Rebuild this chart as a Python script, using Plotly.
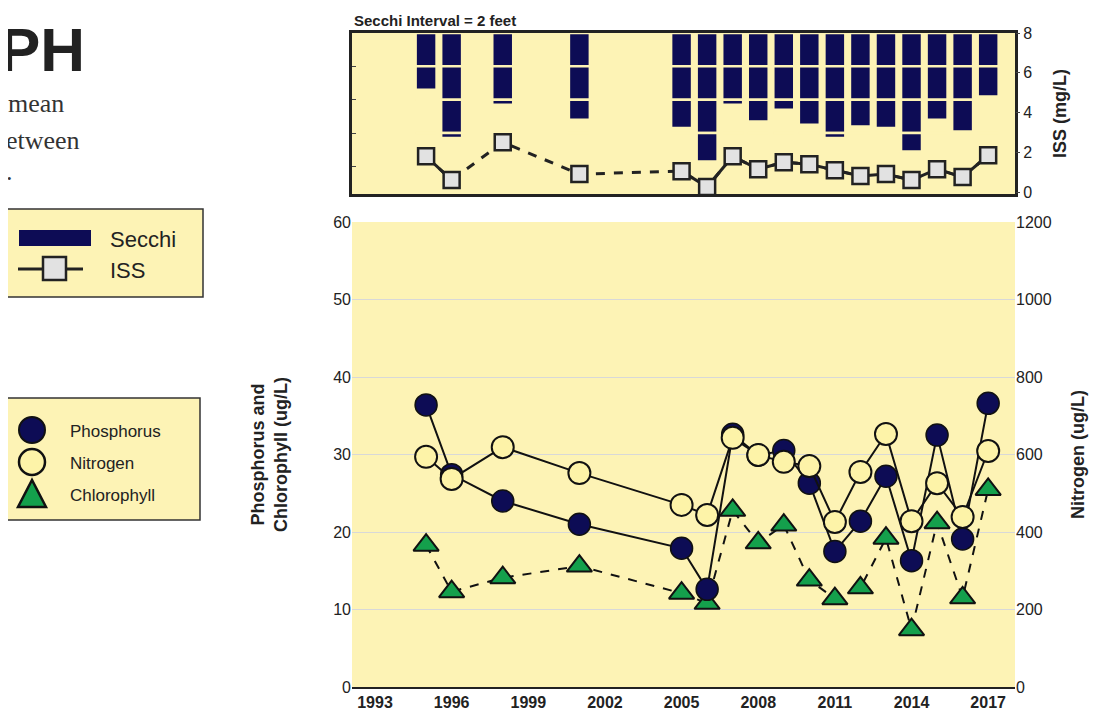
import plotly.graph_objects as go

years = [1995, 1996, 1998, 2001, 2005, 2006, 2007, 2008, 2009, 2010, 2011, 2012, 2013, 2014, 2015, 2016, 2017]
secchi_ft = [3.4, 6.3, 4.3, 5.2, 5.7, 7.7, 4.3, 5.3, 4.6, 5.5, 6.3, 5.6, 5.7, 7.1, 5.2, 5.9, 3.8]
iss = [1.8, 0.6, 2.5, 0.9, 1.05, 0.25, 1.8, 1.15, 1.5, 1.4, 1.1, 0.8, 0.9, 0.6, 1.15, 0.75, 1.85]
phosphorus = [36.4, 27.4, 24.0, 21.0, 17.9, 12.6, 32.6, 29.9, 30.5, 26.3, 17.5, 21.4, 27.2, 16.3, 32.5, 19.1, 36.6]
nitrogen = [594, 537, 619, 552, 470, 444, 643, 599, 581, 570, 426, 555, 653, 428, 526, 439, 609]
chlorophyll = [18.3, 12.3, 14.1, 15.6, 12.1, 10.8, 22.8, 18.6, 20.9, 13.8, 11.4, 12.8, 19.2, 7.4, 21.2, 11.5, 25.5]
x_ticks = list(range(1993, 2018, 3))

BG = "#fdf3b5"
NAVY = "#0d0c55"
GREEN = "#14a04c"
W, H = 1099, 719
OFF = 8  # page offset of the plot in the browser


def px(x):
    return (x - OFF) / W


def py(y):
    return 1 - (y - OFF) / H


fig = go.Figure()

# Secchi bars in 2-foot segments
for k in range(5):
    seg = [max(0, min(2, d - 2 * k)) for d in secchi_ft]
    fig.add_trace(go.Bar(x=years, y=seg, base=[2 * k] * len(years), xaxis="x2", yaxis="y3",
                         marker=dict(color=NAVY, line=dict(color=BG, width=2.5)),
                         width=0.82, showlegend=False, hoverinfo="skip"))

# ISS: dashed over gaps, solid between consecutive years
fig.add_trace(go.Scatter(x=years, y=iss, xaxis="x2", yaxis="y4", mode="lines",
                         line=dict(color="#222", width=3, dash="dash"), showlegend=False))
solid_x, solid_y = [], []
for i in range(1, len(years)):
    if years[i] - years[i - 1] == 1:
        solid_x += [years[i - 1], years[i], None]
        solid_y += [iss[i - 1], iss[i], None]
fig.add_trace(go.Scatter(x=solid_x, y=solid_y, xaxis="x2", yaxis="y4", mode="lines",
                         line=dict(color="#222", width=3), showlegend=False))
fig.add_trace(go.Scatter(x=years, y=iss, xaxis="x2", yaxis="y4", mode="markers",
                         marker=dict(symbol="square", size=16, color="#e2e2e2",
                                     line=dict(color="#222", width=2.5)), showlegend=False))

# Bottom panel
fig.add_trace(go.Scatter(x=years, y=chlorophyll, mode="lines+markers",
                         line=dict(color="#111", width=2, dash="dash"),
                         marker=dict(symbol="triangle-up", size=22, color=GREEN,
                                     line=dict(color="#111", width=2)), showlegend=False))
fig.add_trace(go.Scatter(x=years, y=nitrogen, yaxis="y2", mode="lines+markers",
                         line=dict(color="#111", width=2),
                         marker=dict(symbol="circle", size=22, color="#fdf3a8",
                                     line=dict(color="#111", width=2)), showlegend=False))
fig.add_trace(go.Scatter(x=years, y=phosphorus, mode="lines+markers",
                         line=dict(color="#111", width=2),
                         marker=dict(symbol="circle", size=22, color=NAVY,
                                     line=dict(color="#111", width=1.5)), showlegend=False))

shapes = [
    dict(type="rect", x0=px(3), x1=px(203), y0=py(297), y1=py(209),
         fillcolor=BG, line=dict(color="#333", width=1.5)),
    dict(type="rect", x0=px(-2), x1=px(200), y0=py(520), y1=py(398),
         fillcolor=BG, line=dict(color="#333", width=1.5)),
    dict(type="rect", x0=px(19), x1=px(91), y0=py(246), y1=py(230), fillcolor=NAVY, line=dict(width=0)),
    dict(type="line", x0=px(18), x1=px(83), y0=py(269), y1=py(269), line=dict(color="#222", width=3)),
    dict(type="rect", x0=px(43), x1=px(66), y0=py(280), y1=py(257), fillcolor="#e2e2e2",
         line=dict(color="#222", width=2.5)),
    dict(type="circle", x0=px(19), x1=px(45), y0=py(443), y1=py(417), fillcolor=NAVY,
         line=dict(color="#111", width=2)),
    dict(type="circle", x0=px(19), x1=px(45), y0=py(475), y1=py(449), fillcolor="#fdf3a8",
         line=dict(color="#111", width=2.5)),
    dict(type="path", path=f"M {px(18)} {py(507)} L {px(46)} {py(507)} L {px(32)} {py(480)} Z",
         fillcolor=GREEN, line=dict(color="#111", width=2.5)),
]
for s in shapes:
    s.update(xref="paper", yref="paper")


def label(text, x, y, size, family="Arial", anchor="left", color="#222"):
    return dict(text=text, x=px(x), y=py(y), xref="paper", yref="paper", xanchor=anchor,
                yanchor="middle", showarrow=False, font=dict(family=family, size=size, color=color))


x_dom = [px(352), px(1015)]
axfont = dict(family="Arial", size=16, color="#222")
titlefont = dict(family="Arial", size=18, color="#222")
fig.update_layout(
    width=W, height=H, margin=dict(l=0, r=0, t=0, b=0, autoexpand=False),
    paper_bgcolor="white", plot_bgcolor=BG, barmode="overlay",
    xaxis=dict(domain=x_dom, range=[1992.1, 2018.05], tickvals=x_ticks, ticks="",
               tickfont=dict(family="Arial", size=16, color="#222", weight="bold"),
               showgrid=False, showline=True, linecolor="#222", linewidth=2, zeroline=False),
    yaxis=dict(domain=[py(687), py(222)], range=[0, 60], dtick=10, ticks="",
               tickfont=axfont, gridcolor="#d8d8d8", showline=False, zeroline=False,
               title=dict(text="<b>Phosphorus and<br>Chlorophyll (ug/L)</b>", font=titlefont, standoff=40)),
    yaxis2=dict(overlaying="y", side="right", range=[0, 1200], dtick=200, ticks="",
                tickfont=axfont, showgrid=False, zeroline=False, showline=False,
                title=dict(text="<b>Nitrogen (ug/L)</b>", font=titlefont, standoff=20)),
    xaxis2=dict(domain=x_dom, range=[1992.1, 2018.05], anchor="y3", showticklabels=False,
                showgrid=False, showline=True, linecolor="#222", linewidth=3, mirror=True, zeroline=False),
    yaxis3=dict(domain=[py(194), py(33)], range=[9.65, 0], dtick=2, ticks="inside", ticklen=4,
                showticklabels=False, showgrid=False, showline=True, linecolor="#222", linewidth=3,
                mirror=True, zeroline=False, anchor="x2"),
    yaxis4=dict(overlaying="y3", side="right", range=[-0.1, 8.0], dtick=2, ticks="outside", ticklen=4,
                tickfont=axfont, showgrid=False, zeroline=False, anchor="x2",
                title=dict(text="<b>ISS (mg/L)</b>", font=titlefont, standoff=22)),
    shapes=shapes,
    annotations=[
        label("<b>PH</b>", -3, 50, 62, family="Liberation Sans"),
        label("mean", 6, 103, 26, family="Liberation Serif", color="#333"),
        label("etween", 4, 140, 26, family="Liberation Serif", color="#333"),
        label(".", 4, 172, 26, family="Liberation Serif", color="#333"),
        label("<b>Secchi Interval = 2 feet</b>", 352, 20, 15),
        label("Secchi", 108, 240, 22),
        label("ISS", 108, 270, 22),
        label("Phosphorus", 68, 431, 17),
        label("Nitrogen", 68, 463, 17),
        label("Chlorophyll", 68, 495, 17),
    ],
)

fig.write_html("out.html")
